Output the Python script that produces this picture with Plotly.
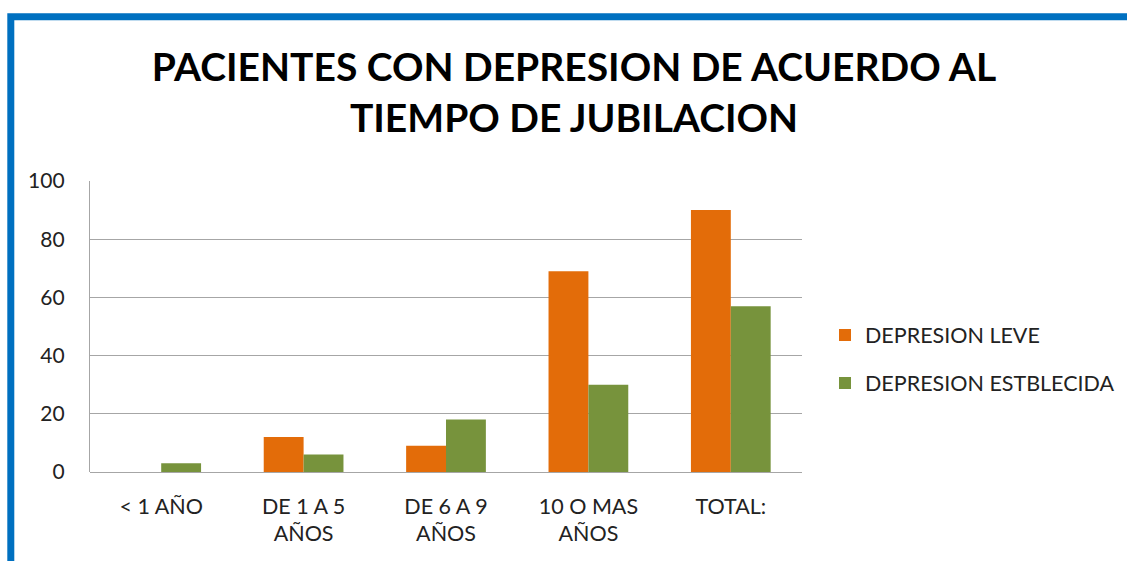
import plotly.graph_objects as go

categories = ["< 1 AÑO", "DE 1 A 5<br>AÑOS", "DE 6 A 9<br>AÑOS", "10 O MAS<br>AÑOS", "TOTAL:"]
leve = [0, 12, 9, 69, 90]
establecida = [3, 6, 18, 30, 57]
series_names = ["DEPRESION LEVE", "DEPRESION ESTBLECIDA"]
y_ticks = [0, 20, 40, 60, 80, 100]

W, H = 1127, 561
L, R, T, B = 90, 802, 181, 472
FONT = "Lato"

def px_x(px):
    return (px - L) / (R - L)

def px_y(py):
    return (B - py) / (B - T)

fig = go.Figure()
fig.add_trace(go.Bar(x=categories, y=leve, name=series_names[0],
                     marker=dict(color="#E36C09", line=dict(width=0)),
                     legendgroup="a"))
fig.add_trace(go.Bar(x=categories, y=establecida, name=series_names[1],
                     marker=dict(color="#77933C", line=dict(width=0)),
                     legendgroup="b"))

fig.update_layout(
    width=W, height=H,
    margin=dict(l=L, r=W - R, t=T, b=H - B, autoexpand=False),
    paper_bgcolor="white", plot_bgcolor="white",
    barmode="group", bargap=0.44, bargroupgap=0,
    font=dict(family=FONT, color="#222222", size=21),
    title=dict(text="<b>PACIENTES CON DEPRESION DE ACUERDO AL<br>TIEMPO DE JUBILACION</b>",
               x=574 / W, xanchor="center", xref="container",
               y=1 - 81 / H, yanchor="middle", yref="container",
               font=dict(family=FONT, size=39, color="#000000")),
    legend=dict(x=px_x(825), y=px_y(359), xanchor="left", yanchor="middle",
                font=dict(family=FONT, size=21.5, color="#222222"),
                tracegroupgap=17, traceorder="grouped", itemwidth=30,
                bgcolor="rgba(0,0,0,0)"),
    xaxis=dict(showgrid=False, showline=False, ticks="", tickfont=dict(size=21.5),
               ticklabelstandoff=19),
    yaxis=dict(range=[0, 100], tickvals=y_ticks, showgrid=True, gridcolor="#A6A6A6",
               gridwidth=1.3, showline=True, linecolor="#A6A6A6", linewidth=1.3,
               zeroline=True, zerolinecolor="#A6A6A6", zerolinewidth=1.3,
               ticks="", tickfont=dict(size=21), ticklabelstandoff=20),
)

fig.add_shape(type="rect", xref="paper", yref="paper",
              x0=px_x(10.8), x1=px_x(1160), y0=px_y(16.7), y1=px_y(600),
              line=dict(color="#0070C0", width=7), fillcolor="rgba(0,0,0,0)", layer="above")

fig.write_html("out.html", config={"displayModeBar": False},
               post_script="document.body.style.margin='0';document.body.style.padding='0';")
